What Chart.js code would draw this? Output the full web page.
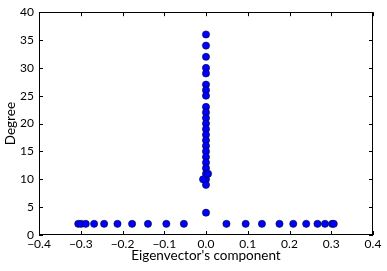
<!DOCTYPE html>
<html>
<head>
<meta charset="utf-8">
<script src="https://cdn.jsdelivr.net/npm/chart.js@4/dist/chart.umd.min.js"></script>
<style>
html,body{margin:0;padding:0;background:#fff;}
#wrap{width:387px;height:271px;}
</style>
</head>
<body>
<div id="wrap"><canvas id="c" width="387" height="271"></canvas></div>
<script>
// Eigenvector component (x) and degree (y) for each node
const bottomRowX = [-0.306, -0.299, -0.288, -0.268, -0.244, -0.212, -0.177, -0.139, -0.095, -0.053,
                    0.049, 0.095, 0.134, 0.176, 0.209, 0.240, 0.267, 0.285, 0.302, 0.306];
const bottomRowDegree = 2;
const columnDegrees = [36, 34, 32, 30, 29, 27, 26, 25, 23, 22, 21, 20, 19, 18, 17, 16, 15, 14, 13, 12, 11, 10, 9, 4];
const offsetX = [0.005, -0.007];
const offsetDegrees = [11, 10];
const xTicks = [-0.4, -0.3, -0.2, -0.1, 0.0, 0.1, 0.2, 0.3, 0.4];
const yTicks = [0, 5, 10, 15, 20, 25, 30, 35, 40];

const points = [];
bottomRowX.forEach(x => points.push({x: x, y: bottomRowDegree}));
columnDegrees.forEach(d => points.push({x: 0, y: d}));
offsetX.forEach((x, i) => points.push({x: x, y: offsetDegrees[i]}));

const FONT = "Lato, 'Open Sans', sans-serif";

const frameTicks = {
  id: 'frameTicks',
  afterDatasetsDraw(chart) {
    const {ctx, chartArea: a, scales: {x, y}} = chart;
    ctx.save();
    ctx.strokeStyle = '#000';
    ctx.lineWidth = 1;
    const L = 4;
    ctx.beginPath();
    xTicks.forEach(v => {
      const px = Math.round(x.getPixelForValue(v)) + 0.5;
      ctx.moveTo(px, a.bottom); ctx.lineTo(px, a.bottom - L);
      ctx.moveTo(px, a.top); ctx.lineTo(px, a.top + L);
    });
    yTicks.forEach(v => {
      const py = Math.round(y.getPixelForValue(v)) + 0.5;
      ctx.moveTo(a.left, py); ctx.lineTo(a.left + L, py);
      ctx.moveTo(a.right, py); ctx.lineTo(a.right - L, py);
    });
    ctx.stroke();
    ctx.strokeRect(Math.round(a.left) + 0.5, Math.round(a.top) + 0.5,
                   Math.round(a.right - a.left) - 1, Math.round(a.bottom - a.top) - 1);
    ctx.restore();
  }
};

const fmt = v => {
  if (Math.abs(v) < 1e-9) v = 0;
  return v.toFixed(1).replace('-', '\u2212');
};

new Chart(document.getElementById('c'), {
  type: 'scatter',
  data: {
    datasets: [{
      data: points,
      backgroundColor: '#0000ff',
      borderColor: '#000033',
      borderWidth: 0.6,
      pointRadius: 3.6,
      pointHoverRadius: 3.6
    }]
  },
  options: {
    responsive: false,
    animation: false,
    events: [],
    layout: {padding: {left: 0, right: 14, top: 12, bottom: 0}},
    plugins: {legend: {display: false}, tooltip: {enabled: false}},
    scales: {
      x: {
        type: 'linear',
        min: -0.4, max: 0.4,
        afterBuildTicks: s => { s.ticks = xTicks.map(v => ({value: v})); },
        afterFit: s => { s.height = 36; },
        grid: {display: false, drawTicks: false},
        border: {display: false},
        ticks: {
          callback: v => fmt(v),
          color: '#000', padding: 2, maxRotation: 0, autoSkip: false,
          font: {family: FONT, size: 12}
        },
        title: {
          display: true, text: "Eigenvector's component", color: '#000',
          font: {family: FONT, size: 13.5}, padding: {top: 0, bottom: 7}
        }
      },
      y: {
        type: 'linear',
        min: 0, max: 40,
        afterBuildTicks: s => { s.ticks = yTicks.map(v => ({value: v})); },
        afterFit: s => { s.width = 39; },
        grid: {display: false, drawTicks: false},
        border: {display: false},
        ticks: {
          color: '#000', padding: 5, autoSkip: false,
          font: {family: FONT, size: 12}
        },
        title: {
          display: true, text: 'Degree', color: '#000',
          font: {family: FONT, size: 13.5}, padding: {top: 2.5, bottom: 0}
        }
      }
    }
  },
  plugins: [frameTicks]
});
</script>
</body>
</html>
